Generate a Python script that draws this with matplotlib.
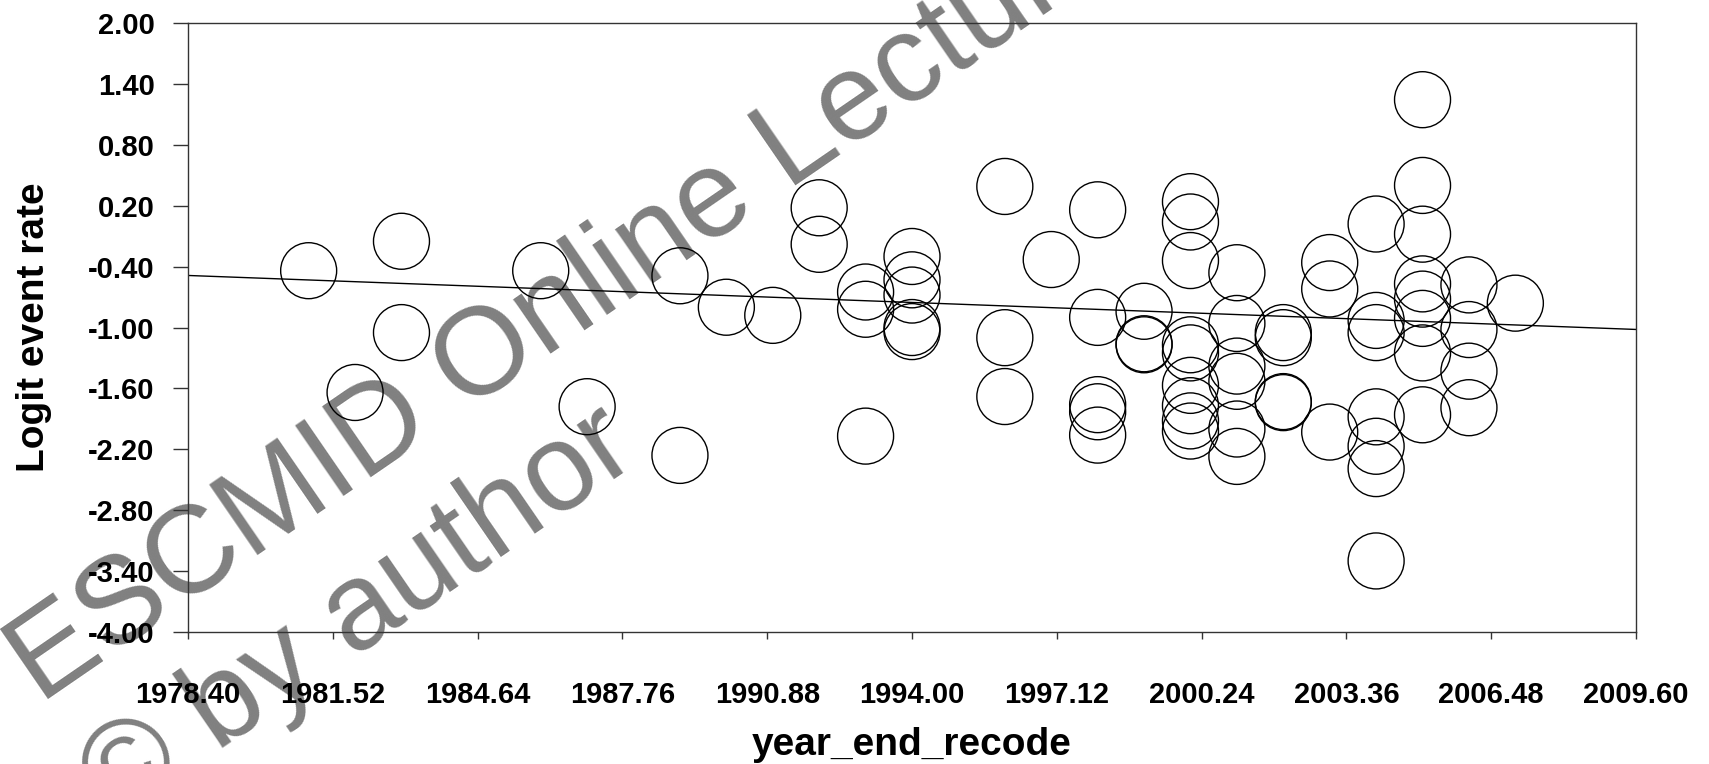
#!/usr/bin/env python3
"Meta-regression bubble plot: logit event rate vs year_end_recode."
import matplotlib
matplotlib.use("Agg")
import numpy as np
import matplotlib.pyplot as plt

# study points (year, logit event rate)
years = [1981, 1982, 1983, 1983, 1986, 1987, 1989, 1989, 1990, 1991,
         1992, 1992, 1993, 1993, 1993,
         1994, 1994, 1994, 1994, 1994,
         1996, 1996, 1996, 1997,
         1998, 1998, 1998, 1998, 1998,
         1999, 1999, 1999,
         2000, 2000, 2000, 2000, 2000, 2000, 2000, 2000, 2000,
         2001, 2001, 2001, 2001, 2001, 2001,
         2002, 2002, 2002, 2002,
         2003, 2003, 2003,
         2004, 2004, 2004, 2004, 2004, 2004, 2004,
         2005, 2005, 2005, 2005, 2005, 2005, 2005, 2005,
         2006, 2006, 2006, 2006,
         2007]
logit = [-0.44, -1.64, -0.15, -1.05, -0.44, -1.78, -0.49, -2.26, -0.80, -0.88,
         0.18, -0.18, -0.65, -0.82, -2.07,
         -0.30, -0.53, -0.68, -1.00, -1.04,
         0.39, -1.10, -1.68, -0.33,
         0.16, -0.90, -1.76, -1.83, -2.06,
         -0.84, -1.16, -1.17,
         0.24, 0.04, -0.34, -1.17, -1.25, -1.57, -1.77, -1.92, -2.02,
         -0.46, -0.96, -1.38, -1.53, -2.00, -2.27,
         -1.05, -1.10, -1.73, -1.74,
         -0.36, -0.62, -2.03,
         0.02, -0.93, -1.05, -1.88, -2.17, -2.39, -3.30,
         1.245, 0.40, -0.08, -0.57, -0.72, -0.91, -1.25, -1.86,
         -0.58, -1.02, -1.43, -1.79,
         -0.76]

# regression line end points
line_x = [1978.40, 2009.60]
line_y = [-0.487, -1.019]

xticks = [1978.40, 1981.52, 1984.64, 1987.76, 1990.88, 1994.00,
          1997.12, 2000.24, 2003.36, 2006.48, 2009.60]
yticks = [2.00, 1.40, 0.80, 0.20, -0.40, -1.00, -1.60, -2.20, -2.80, -3.40, -4.00]

plt.rcParams['font.family'] = ['Liberation Sans', 'DejaVu Sans']

fig = plt.figure(figsize=(17.09, 7.64), dpi=100)
fig.patch.set_facecolor('white')
ax = fig.add_axes([0.110, 0.1728, 0.8473, 0.797])
ax.set_facecolor('none')

# watermark, behind the axes
wm = dict(fontsize=89, color='#808080', rotation=34.5, rotation_mode='anchor',
          ha='left', va='baseline', zorder=-1)
fig.text(0.0234, 0.0772, 'ESCMID Online Lecture Library', **wm)
fig.text(0.0661, -0.0785, '\u00a9 by author', **wm)

ax.scatter(years, logit, s=1625, facecolors='none', edgecolors='black',
           linewidths=1.0, zorder=3)
ax.plot(line_x, line_y, color='black', lw=1.0, zorder=2)

ax.set_xlim(xticks[0], xticks[-1])
ax.set_ylim(-4.0, 2.0)
ax.set_xticks(xticks)
ax.set_xticklabels([f'{v:.2f}' for v in xticks])
ax.set_yticks(yticks)
ax.set_yticklabels([f'{v:.2f}' for v in yticks])

for sp in ax.spines.values():
    sp.set_color('#333333')
    sp.set_linewidth(1.0)

ax.tick_params(axis='x', direction='out', length=5, width=1, color='#333333',
               pad=30, labelsize=21)
ax.tick_params(axis='y', direction='out', length=11, width=1, color='#333333',
               pad=13, labelsize=21)
for lab in ax.get_xticklabels() + ax.get_yticklabels():
    lab.set_fontweight('bold')

ax.set_xlabel('year_end_recode', fontsize=28, fontweight='bold', va='center')
ax.set_ylabel('Logit event rate', fontsize=28, fontweight='bold', va='center')
ax.xaxis.set_label_coords(0.5, -0.186)
ax.yaxis.set_label_coords(-0.106, 0.5)

fig.savefig('out.png', dpi=100)
